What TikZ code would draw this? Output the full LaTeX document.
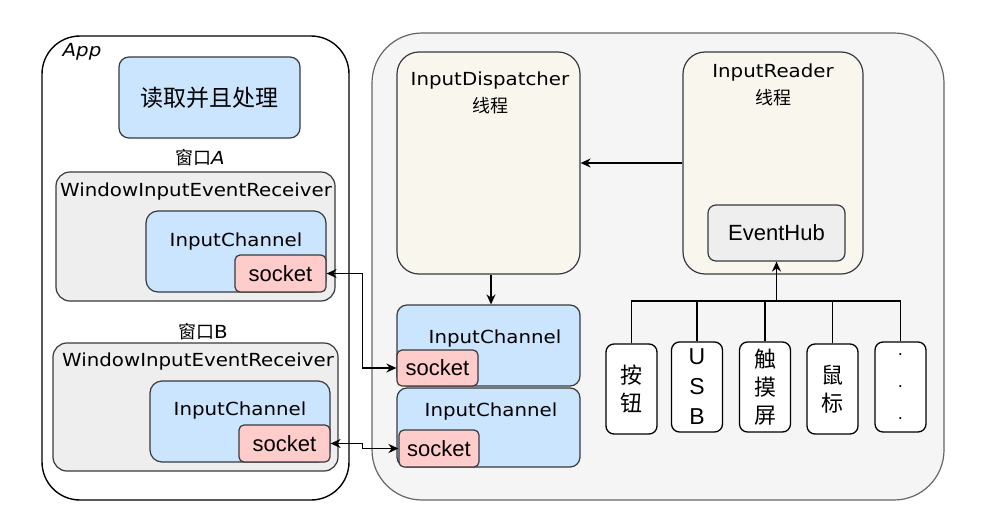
\documentclass[tikz,border=0pt]{standalone}
\usepackage{fontspec}
\usepackage{graphicx}
\setmainfont{DejaVu Sans}
\newfontfamily\cjk{Noto Sans CJK SC}
\newfontfamily\arial{Liberation Sans}
\usetikzlibrary{arrows.meta}
\definecolor{bluef}{HTML}{CCE5FF}
\definecolor{redf}{HTML}{FFCCCC}
\definecolor{grayf}{HTML}{EEEEEE}
\definecolor{creamf}{HTML}{F9F7ED}
\definecolor{bigf}{HTML}{F5F5F5}
\definecolor{bigd}{HTML}{666666}
\definecolor{dk}{HTML}{36393D}
\newcommand{\widetxt}[1]{\scalebox{1.1}[1]{#1}}
\tikzset{
  box/.style={draw=dk, line width=1.2pt, rounded corners=#1, inner sep=0pt, anchor=center},
  box/.default=10pt,
  lbl/.style={inner sep=0pt, anchor=center, font=\fontsize{18}{21}\selectfont},
  cj/.style={inner sep=0pt, anchor=center, font=\cjk\fontsize{18}{21}\selectfont},
  sock/.style={box=5pt, fill=redf, font=\arial\fontsize{22}{25}\selectfont},
  dev/.style={draw=black, fill=white, line width=1.3pt, rounded corners=8pt, minimum width=51pt, minimum height=90pt, inner sep=0pt, align=center, font=\cjk\fontsize{22}{28}\selectfont},
  conn/.style={line width=1.6pt, -{Stealth[length=10pt,width=9pt]}},
  biconn/.style={line width=1.6pt, {Stealth[length=10pt,width=9pt]}-{Stealth[length=10pt,width=9pt]}},
  bus/.style={line width=1.4pt}
}
\begin{document}
\begin{tikzpicture}[x=1pt,y=-1pt]
\useasboundingbox (0,0) rectangle (984,530);
% App
\node[draw=black, fill=white, line width=1.4pt, rounded corners=38pt, minimum width=307pt, minimum height=464pt] (app) at (195.5,268) {};
\node[lbl, font=\fontsize{18}{21}\selectfont\itshape] (applbl) at (82,52) {\widetxt{App}};
\node[box=10pt, fill=bluef, minimum width=181pt, minimum height=81pt, font=\cjk\fontsize{23}{26}\selectfont] (proc) at (209.5,97.5) {读取并且处理};
\node[lbl] (wa) at (200,158) {{\cjk 窗口}\widetxt{\textit{A}}};
\node[box=14pt, fill=grayf, minimum width=279pt, minimum height=129pt] (winA) at (195.5,236.5) {};
\node[lbl] (winAl) at (196,192) {\widetxt{WindowInputEventReceiver}};
\node[box=12pt, fill=bluef, minimum width=180pt, minimum height=81pt] (icA) at (236,251.5) {};
\node[lbl] (icAl) at (236,242) {\widetxt{InputChannel}};
\node[sock, minimum width=91pt, minimum height=37pt] (sockA) at (280.5,273.5) {socket};
\node[lbl] (wb) at (203,332) {{\cjk 窗口}\widetxt{B}};
\node[box=14pt, fill=grayf, minimum width=285pt, minimum height=128pt] (winB) at (195.5,407) {};
\node[lbl] (winBl) at (198,362) {\widetxt{WindowInputEventReceiver}};
\node[box=12pt, fill=bluef, minimum width=180pt, minimum height=81pt] (icB) at (240,421.5) {};
\node[lbl] (icBl) at (240,411) {\widetxt{InputChannel}};
\node[sock, minimum width=91pt, minimum height=37pt] (sockB) at (284.5,443.5) {socket};
% system box
\node[draw=bigd, fill=bigf, line width=1.2pt, rounded corners=50pt, minimum width=572pt, minimum height=467pt, inner sep=0pt] (big) at (658,266.5) {};
\node[box=22pt, fill=creamf, minimum width=183pt, minimum height=222pt] (disp) at (488.5,163) {};
\node[lbl] (displ) at (490,81) {\widetxt{InputDispatcher}};
\node[cj] (dispc) at (490,106) {线程};
\node[box=22pt, fill=creamf, minimum width=180pt, minimum height=222pt] (reader) at (773,163) {};
\node[lbl] (readerl) at (773,73) {\widetxt{InputReader}};
\node[cj] (readerc) at (773,98) {线程};
\node[box=8pt, fill=grayf, minimum width=137pt, minimum height=56pt, font=\arial\fontsize{22}{25}\selectfont] (hub) at (776.5,233) {EventHub};
\node[box=10pt, fill=bluef, minimum width=183pt, minimum height=81pt] (ic1) at (488.5,345.5) {};
\node[lbl] (ic1l) at (495,339) {\widetxt{InputChannel}};
\node[sock, minimum width=81pt, minimum height=36pt] (s1) at (437.5,368) {socket};
\node[box=10pt, fill=bluef, minimum width=183pt, minimum height=79pt] (ic2) at (488.5,427.5) {};
\node[lbl] (ic2l) at (491,412) {\widetxt{InputChannel}};
\node[sock, minimum width=80pt, minimum height=37pt] (s2) at (439,448.5) {socket};
% devices
\node[dev] (d1) at (631.5,389) {按\\钮};
\node[dev, font=\arial\fontsize{23}{30}\selectfont] (d2) at (697,387) {U\\S\\B};
\node[dev] (d3) at (765,387) {触\\摸\\屏};
\node[dev] (d4) at (832.5,389) {鼠\\标};
\node[dev, font=\fontsize{16}{32}\selectfont] (d5) at (900.5,387) {.\\.\\.};
% connectors
\draw[conn] (reader.west |- 0,163) -- (disp.east |- 0,163);
\draw[conn] (disp.south -| 491,0) -- (ic1.north -| 491,0);
\foreach \d in {d1,d2,d3,d4,d5}{
  \draw[bus] (\d.north) |- (776.5,301);
}
\draw[conn] (776.5,301) -- (hub.south);
\draw[biconn] (sockA.east) -- ++(36,0) |- (s1.west);
\draw[biconn] (sockB.east) -- ++(32,0) |- (s2.west);
\end{tikzpicture}
\end{document}
